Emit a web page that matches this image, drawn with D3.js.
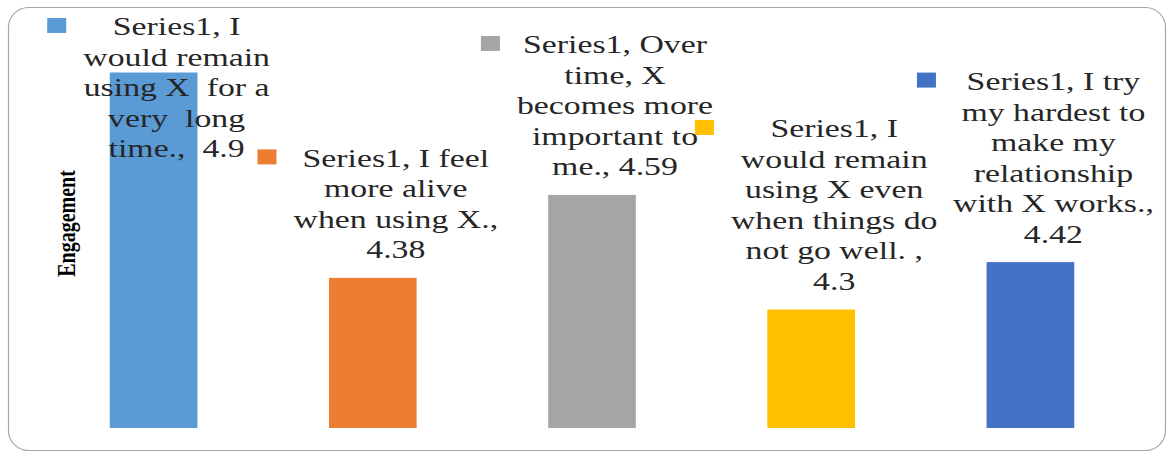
<!DOCTYPE html>
<html>
<head>
<meta charset="utf-8">
<script src="https://cdn.jsdelivr.net/npm/d3@7"></script>
<style>
html,body{margin:0;padding:0;background:#fff;}
svg{display:block;}
</style>
</head>
<body>
<svg id="chart" width="1168" height="451"></svg>
<script>
const seriesName = "Series1";
const categories = [
  "I would remain using X for a very long time.",
  "I feel more alive when using X.",
  "Over time, X becomes more important to me.",
  "I would remain using X even when things do not go well. ",
  "I try my hardest to make my relationship with X works."
];
const values = [4.9, 4.38, 4.59, 4.3, 4.42];
const colors = ["#5B9BD5", "#ED7D31", "#A5A5A5", "#FFC000", "#4472C4"];
const labelLines = [
  ["Series1, I", "would remain", "using X  for a", "very  long", "time.,  4.9"],
  ["Series1, I feel", "more alive", "when using X.,", "4.38"],
  ["Series1, Over", "time, X", "becomes more", "important to", "me., 4.59"],
  ["Series1, I", "would remain", "using X even", "when things do", "not go well. ,", "4.3"],
  ["Series1, I try", "my hardest to", "make my", "relationship", "with X works.,", "4.42"]
];
const yDomain = [4, 5];
const yAxisTitle = "Engagement";

const svg = d3.select("#chart");
const W = 1168, H = 451;

// chart border
svg.append("rect")
  .attr("x", 8.5).attr("y", 7.5)
  .attr("width", 1157).attr("height", 443)
  .attr("rx", 20).attr("ry", 20)
  .attr("fill", "#fff")
  .attr("stroke", "#a6a6a6").attr("stroke-width", 1.2);

const x = d3.scaleBand()
  .domain(categories)
  .range([44, 1140])
  .paddingInner(0.6)
  .paddingOuter(0.3);

const y = d3.scaleLinear().domain(yDomain).range([428, 33]);

// bars
svg.append("g").selectAll("rect")
  .data(categories)
  .join("rect")
  .attr("x", d => x(d))
  .attr("width", x.bandwidth())
  .attr("y", (d, i) => y(values[i]))
  .attr("height", (d, i) => y(yDomain[0]) - y(values[i]))
  .attr("fill", (d, i) => colors[i]);

// y axis title
svg.append("text")
  .attr("transform", "translate(74.5,223.5) scale(1.3,1) rotate(-90)")
  .attr("text-anchor", "middle")
  .attr("font-family", "'Liberation Serif','Times New Roman',serif")
  .attr("font-weight", "bold")
  .attr("font-size", 20)
  .attr("fill", "#000")
  .text(yAxisTitle);

// data labels
const fs = 26, sx = 1.3, lineH = 30.5, keyW = 19, keyH = 15, gap = 17;
const lblG = svg.append("g");
categories.forEach((c, i) => {
  const lines = labelLines[i];
  const g = lblG.append("g");
  const tg = g.append("g");
  const texts = tg.selectAll("text").data(lines).join("text")
    .attr("text-anchor", "middle")
    .attr("font-family", "'Liberation Serif','Times New Roman',serif")
    .attr("font-size", fs)
    .attr("fill", "#262626")
    .style("white-space", "pre")
    .attr("xml:space", "preserve")
    .text(d => d);
  let maxLen = 0;
  texts.each(function(){ maxLen = Math.max(maxLen, this.getComputedTextLength()); });
  const tw = maxLen * sx;
  const cx = x(c) + x.bandwidth() / 2;
  const blockW = keyW + gap + tw;
  const blockLeft = cx + 5 - blockW / 2;
  const textCenter = blockLeft + keyW + gap + tw / 2;
  let last = y(values[i]) - 28;
  let first = last - (lines.length - 1) * lineH;
  if (first < 27) first = 27;
  tg.attr("transform", `translate(${textCenter},0) scale(${sx},1)`);
  texts.attr("x", 0).attr("y", (d, j) => first + j * lineH + 8.5);
  g.append("rect")
    .attr("x", blockLeft)
    .attr("y", first - 1.5 - keyH / 2)
    .attr("width", keyW).attr("height", keyH)
    .attr("fill", colors[i]);
});
</script>
</body>
</html>
